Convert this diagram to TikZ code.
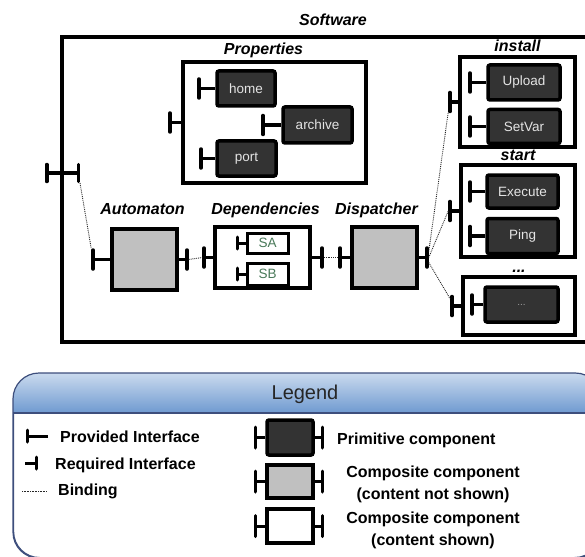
\documentclass[tikz,border=0pt]{standalone}
\usepackage{fontspec}
\setmainfont{Liberation Sans}
\usetikzlibrary{arrows.meta, positioning}

\definecolor{primfill}{HTML}{333333}
\definecolor{compfill}{HTML}{C0C0C0}
\definecolor{primtext}{HTML}{E4E4E4}
\definecolor{svctext}{HTML}{4A7A5A}
\definecolor{hdtop}{HTML}{CADAEE}
\definecolor{hdbot}{HTML}{6F9AD0}
\definecolor{legline}{HTML}{3D4E7C}

\begin{document}
\begin{tikzpicture}[
  x=1pt, y=-1pt,
  every node/.style={align=center},
  lbl/.style={font=\bfseries\itshape\fontsize{16}{19}\selectfont, inner sep=0pt, text height=12pt, text depth=3pt},
  openbox/.style={draw, line width=3.5pt, fill=white, inner sep=0pt},
  compbox/.style={draw, line width=3.5pt, fill=compfill, inner sep=0pt},
  primbox/.style={draw, line width=3.5pt, fill=primfill, rounded corners=2pt, inner sep=0pt, text=primtext, font=\fontsize{13.5}{16}\selectfont},
  svcbox/.style={draw, line width=3pt, fill=white, inner sep=0pt, text=svctext, font=\fontsize{13.5}{16}\selectfont},
  iface/.style={line width=3.5pt, -{Bar[width=#1, round]}},
  iface/.default=19pt,
  bind/.style={densely dotted, line width=0.9pt, black!85},
  legtxt/.style={font=\bfseries\fontsize{16}{22}\selectfont, inner sep=0pt},
  legendbox/.style={draw=legline, line width=1.2pt, fill=white, rounded corners=26pt, inner sep=0pt}
]
\useasboundingbox (0,0) rectangle (585,556);
\clip (0,0) rectangle (585,556);

% Software
\node[openbox, minimum width=528, minimum height=305] (software) at (326,189.5) {};
\node[lbl, above=7pt of software, xshift=7pt] (software-lbl) {Software};

% Properties
\node[openbox, minimum width=183, minimum height=121] (props) at (274.5,122.5) {};
\node[lbl, above=3pt of props, xshift=-11pt] (props-lbl) {Properties};
\node[primbox, minimum width=58, minimum height=35] (home) at (246,88.5) {home};
\node[primbox, minimum width=69, minimum height=36] (archive) at (317.5,125) {archive};
\node[primbox, minimum width=59, minimum height=35] (port) at (246.5,158.5) {port};

% Automaton, Dependencies, Dispatcher
\node[compbox, minimum width=65, minimum height=61] (automaton) at (144.5,259.5) {};
\node[lbl, above=10pt of automaton, xshift=-2pt] (automaton-lbl) {Automaton};
\node[openbox, minimum width=95, minimum height=61] (deps) at (262.5,257.5) {};
\node[lbl, above=8pt of deps, xshift=3pt] (deps-lbl) {Dependencies};
\node[svcbox, minimum width=41, minimum height=20] (sa) at (267.5,243) {SA};
\node[svcbox, minimum width=41, minimum height=22, below=7pt of sa] (sb) {SB};
\node[compbox, minimum width=65, minimum height=61] (dispatcher) at (384.5,257.5) {};
\node[lbl, above=8pt of dispatcher, xshift=-8pt] (dispatcher-lbl) {Dispatcher};

% install / start / ...
\node[openbox, minimum width=115, minimum height=90] (install) at (517.5,102) {};
\node[lbl, above=1pt of install] (install-lbl) {install};
\node[primbox, minimum width=72, minimum height=35] (upload) at (524,82.5) {Upload};
\node[primbox, minimum width=72, minimum height=34, below=6pt of upload] (setvar) {SetVar};
\node[openbox, minimum width=114, minimum height=92] (start) at (518,211) {};
\node[lbl, above=0pt of start] (start-lbl) {start};
\node[primbox, minimum width=71, minimum height=33] (execute) at (522.5,191.5) {Execute};
\node[primbox, minimum width=71, minimum height=35, below=7pt of execute] (ping) {Ping};
\node[openbox, minimum width=112, minimum height=58] (more) at (519,306) {};
\node[lbl, above=0pt of more] (more-lbl) {...};
\node[primbox, minimum width=73, minimum height=35, text=primtext!60!primfill, font=\fontsize{10}{12}\selectfont] (moreprim) at (521.5,304.5) {...};

% interfaces
\foreach \n/\d in {home/18pt, archive/20pt, port/16pt, upload/18pt, setvar/18pt, execute/17pt, ping/17pt, moreprim/13pt, props/13pt}
  {\coordinate[left=\d of \n] (\n-prov); \draw[iface] (\n) -- (\n-prov);}
\foreach \n in {sa, sb}
  {\coordinate[left=10pt of \n] (\n-prov); \draw[iface=12pt, line width=3pt] (\n) -- (\n-prov);}
\coordinate[left=19pt of automaton] (auto-prov);
\coordinate[right=10pt of automaton] (auto-req);
\coordinate[left=11pt of deps] (deps-prov);
\coordinate[right=12pt of deps] (deps-req);
\coordinate[left=12pt of dispatcher] (disp-prov);
\coordinate[right=10pt of dispatcher] (disp-req);
\coordinate[left=10pt of install] (install-prov);
\coordinate[left=11pt of start] (start-prov);
\coordinate[left=11pt of more] (more-prov);
\foreach \n/\c in {automaton/auto-prov, automaton/auto-req, deps/deps-prov, deps/deps-req,
  dispatcher/disp-prov, dispatcher/disp-req, install/install-prov, start/start-prov, more/more-prov}
  \draw[iface] (\n) -- (\c);
\coordinate (sw-prov) at (45,173);
\coordinate (sw-req) at (80,173);
\draw[line width=3.5pt, {Bar[width=17pt, round]}-{Bar[width=17pt, round]}] (sw-prov) -- (sw-req);

% bindings
\draw[bind] ([yshift=-10pt]sw-req) -- ([yshift=11pt]auto-prov);
\draw[bind] (auto-req) -- (deps-prov);
\draw[bind] (deps-req) -- (disp-prov);
\draw[bind] ([yshift=6pt]disp-req) -- ([yshift=-10pt]install-prov);
\draw[bind] (disp-req) -- (start-prov);
\draw[bind] ([yshift=-5pt]disp-req) -- ([yshift=7pt]more-prov);

% Legend
\node[legendbox, anchor=north west, minimum width=587, minimum height=184] (legend) at (13,373) {};
\begin{scope}
  \clip[rounded corners=26pt] (legend.north west) rectangle (legend.south east);
  \shade[top color=hdtop, bottom color=hdbot] (legend.north west) rectangle ([yshift=-40pt]legend.north east);
\end{scope}
\draw[legline, line width=1.2pt] ([yshift=-40pt]legend.north west) -- ([yshift=-40pt]legend.north east);
\draw[legline, line width=1.2pt, rounded corners=26pt] (legend.north west) rectangle (legend.south east);
\node[font=\fontsize{20}{24}\selectfont, text=black!85, anchor=base] (legend-lbl) at (305,399) {Legend};

\coordinate (pi-bar) at (26,436);
\coordinate (pi-end) at (48,436);
\draw[iface=12pt, line width=3pt] (pi-end) -- (pi-bar);
\node[legtxt, anchor=base west] (pi-txt) at (60,442) {Provided Interface};
\coordinate (ri-end) at (25,463);
\coordinate (ri-bar) at (38,463);
\draw[iface=12pt, line width=3pt] (ri-end) -- (ri-bar);
\node[legtxt, anchor=base west] (ri-txt) at (55,469) {Required Interface};
\coordinate (bd-a) at (22,491);
\coordinate (bd-b) at (47,491);
\draw[bind, line width=0.6pt] (bd-a) -- (bd-b);
\node[legtxt, anchor=base west] (bd-txt) at (58,495) {Binding};

\node[primbox, minimum width=46, minimum height=35] (leg-prim) at (290,437.5) {};
\node[compbox, minimum width=46, minimum height=33] (leg-comp) at (290,481.5) {};
\node[openbox, minimum width=46, minimum height=34] (leg-open) at (290,526) {};
\foreach \n in {leg-prim, leg-comp, leg-open} {
  \coordinate[left=11pt of \n] (\n-prov);
  \coordinate[right=9pt of \n] (\n-req);
  \draw[iface=21pt, line width=3pt] (\n) -- (\n-prov);
  \draw[iface=21pt, line width=3pt] (\n) -- (\n-req);
}
\node[legtxt, anchor=base west] (prim-txt) at (337,444) {Primitive component};
\node[legtxt] (comp-txt) at (433,484) {Composite component\\(content not shown)};
\node[legtxt] (open-txt) at (433,530) {Composite component\\(content shown)};

\end{tikzpicture}
\end{document}
